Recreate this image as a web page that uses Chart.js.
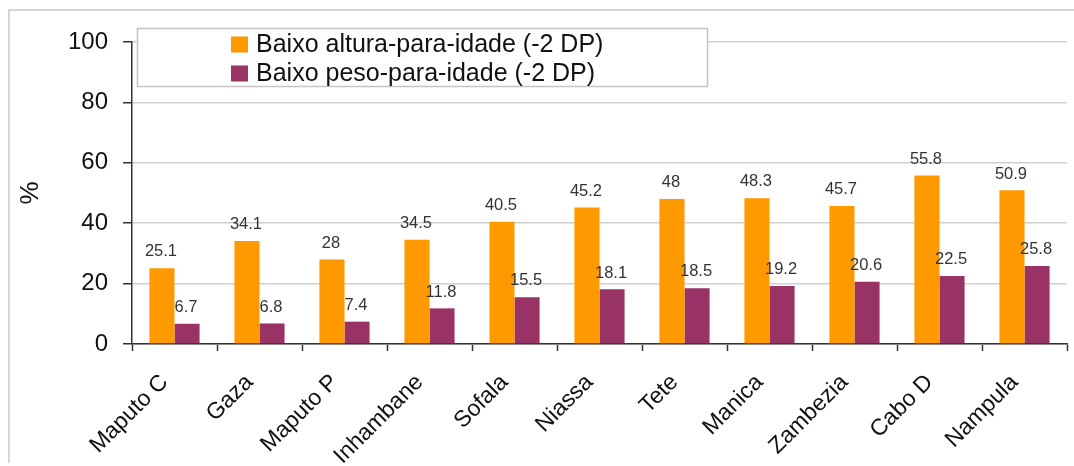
<!DOCTYPE html>
<html>
<head>
<meta charset="utf-8">
<script src="https://cdn.jsdelivr.net/npm/chart.js@4"></script>
<style>
  html, body { margin: 0; padding: 0; background: #fff; }
</style>
</head>
<body>
<canvas id="chart" width="1074" height="466"></canvas>
<script>
const categories = ["Maputo C", "Gaza", "Maputo P", "Inhambane", "Sofala", "Niassa", "Tete", "Manica", "Zambezia", "Cabo D", "Nampula"];
const alturaIdade = [25.1, 34.1, 28, 34.5, 40.5, 45.2, 48, 48.3, 45.7, 55.8, 50.9];
const pesoIdade = [6.7, 6.8, 7.4, 11.8, 15.5, 18.1, 18.5, 19.2, 20.6, 22.5, 25.8];
const seriesNames = ["Baixo altura-para-idade (-2 DP)", "Baixo peso-para-idade (-2 DP)"];
const yTicks = [0, 20, 40, 60, 80, 100];

const FONT = "'Liberation Sans', Arial, sans-serif";

// frame round the whole picture (only left and top edges show)
const framePlugin = {
  id: "frame",
  beforeDraw(chart) {
    const ctx = chart.ctx;
    ctx.save();
    ctx.fillStyle = "#fff";
    ctx.fillRect(0, 0, chart.width, chart.height);
    ctx.strokeStyle = "#d6d6d6";
    ctx.lineWidth = 2;
    ctx.beginPath();
    ctx.moveTo(9, 463);
    ctx.lineTo(9, 10);
    ctx.lineTo(chart.width, 10);
    ctx.stroke();
    ctx.restore();
  }
};

// value above each bar
const valuePlugin = {
  id: "values",
  afterDatasetsDraw(chart) {
    const ctx = chart.ctx;
    ctx.save();
    ctx.font = "16.5px " + FONT;
    ctx.fillStyle = "#333";
    ctx.textAlign = "center";
    ctx.textBaseline = "bottom";
    chart.data.datasets.forEach((ds, i) => {
      chart.getDatasetMeta(i).data.forEach((bar, j) => {
        ctx.fillText(String(ds.data[j]), bar.x - 1, bar.y - 8);
      });
    });
    ctx.restore();
  }
};

// boxed legend sitting inside the plot, top left
const legendPlugin = {
  id: "boxLegend",
  afterDraw(chart) {
    const ctx = chart.ctx;
    ctx.save();
    ctx.fillStyle = "#fff";
    ctx.fillRect(137, 28, 571, 59);
    ctx.strokeStyle = "#c4c4c4";
    ctx.lineWidth = 1.5;
    ctx.strokeRect(137.5, 28.5, 570, 58);
    ctx.font = "25px " + FONT;
    ctx.textBaseline = "middle";
    const rows = [44.5, 73.5];
    chart.data.datasets.forEach((ds, i) => {
      ctx.fillStyle = ds.backgroundColor;
      ctx.fillRect(231, rows[i] - 8, 17, 16);
      ctx.fillStyle = "#111";
      ctx.fillText(ds.label, 256, rows[i] + 1);
    });
    ctx.restore();
  }
};

new Chart(document.getElementById("chart"), {
  type: "bar",
  data: {
    labels: categories,
    datasets: [
      { label: seriesNames[0], data: alturaIdade, backgroundColor: "#FF9900" },
      { label: seriesNames[1], data: pesoIdade, backgroundColor: "#993366" }
    ]
  },
  options: {
    responsive: false,
    devicePixelRatio: 1,
    animation: false,
    layout: { padding: { left: 0, top: 42, right: 7, bottom: 0 } },
    datasets: { bar: { categoryPercentage: 0.59, barPercentage: 1 } },
    plugins: { legend: { display: false }, tooltip: { enabled: false } },
    scales: {
      x: {
        afterFit: s => { s.height = 122; },
        grid: { offset: true, drawOnChartArea: false, tickLength: 7, tickColor: "#333", tickWidth: 1.5 },
        border: { color: "#333", width: 1.5 },
        ticks: {
          color: "#111",
          font: { family: FONT, size: 23 },
          minRotation: 45,
          maxRotation: 45,
          padding: 18,
          labelOffset: -10
        }
      },
      y: {
        min: 0,
        max: 100,
        afterFit: s => { s.width = 132; },
        afterBuildTicks: s => { s.ticks = yTicks.map(v => ({ value: v })); },
        grid: { color: "#cfcfcf", lineWidth: 1.5, tickLength: 9, tickColor: "#333", tickWidth: 1.5 },
        border: { color: "#333", width: 1.5 },
        ticks: {
          color: "#111",
          font: { family: FONT, size: 24 },
          padding: 15
        },
        title: {
          display: true,
          text: "%",
          color: "#111",
          font: { family: FONT, size: 26 },
          padding: { top: 15, bottom: 0 }
        }
      }
    }
  },
  plugins: [framePlugin, valuePlugin, legendPlugin]
});
</script>
</body>
</html>
